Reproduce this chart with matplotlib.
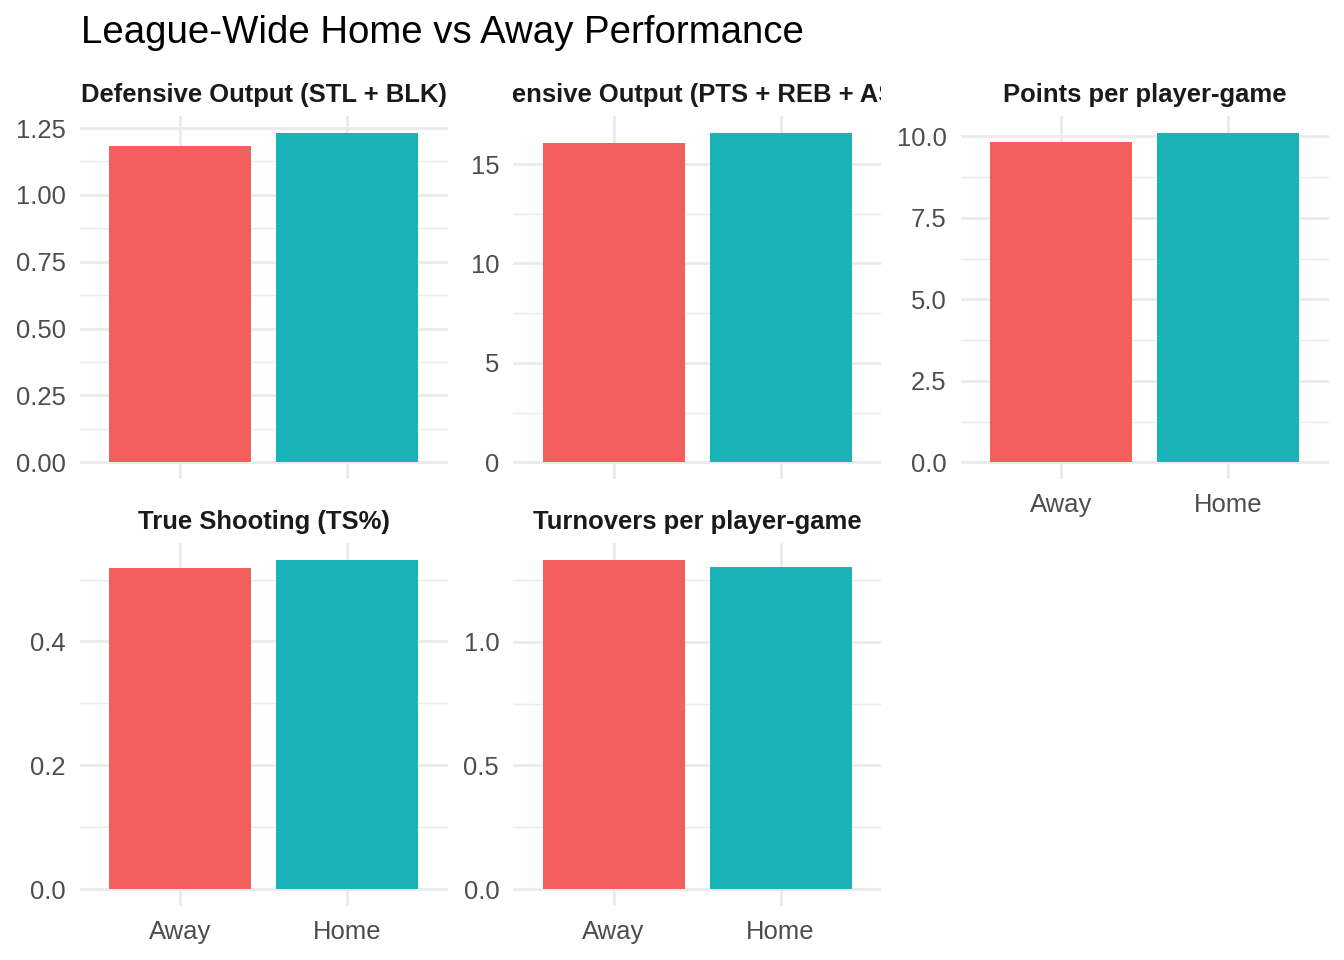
#!/usr/bin/env python3
"""Faceted bar chart: league-wide home vs away averages per metric."""

import matplotlib
matplotlib.use('Agg')
import matplotlib.pyplot as plt
from matplotlib.ticker import MultipleLocator, FormatStrFormatter

plt.rcParams['font.family'] = ['Liberation Sans', 'DejaVu Sans']

# Data
metrics = [
    'Defensive Output (STL + BLK)',
    'Offensive Output (PTS + REB + AST)',
    'Points per player-game',
    'True Shooting (TS%)',
    'Turnovers per player-game',
]
sides = ['Away', 'Home']
away_vals = [1.183, 16.07, 9.84, 0.5195, 1.332]
home_vals = [1.232, 16.57, 10.11, 0.532, 1.303]
tick_steps = [0.25, 5, 2.5, 0.2, 0.5]
tick_decimals = [2, 0, 1, 1, 1]

# Colors
C_AWAY = '#F25F5C'
C_HOME = '#1AB3B8'
C_GRID = '#EBEBEB'
C_TICK = '#4D4D4D'
C_STRIP = '#1A1A1A'

# Layout in pixels of the 1344x960 canvas
W, H = 1344, 960
col_left = [80, 513.3, 961]
panel_w = 367.5
row_top = [116.4, 543.3]
panel_h = 362.3
strip_h = 47
strip_base = 14.7   # baseline of strip text above panel top


def rect(left, top, w, h):
    return [left / W, 1 - (top + h) / H, w / W, h / H]


fig = plt.figure(figsize=(7, 5), dpi=192)

for i, name in enumerate(metrics):
    r, c = divmod(i, 3)
    ax = fig.add_axes(rect(col_left[c], row_top[r], panel_w, panel_h))
    vals = [away_vals[i], home_vals[i]]
    ax.bar(sides, vals, width=0.85, color=[C_AWAY, C_HOME], zorder=2)
    top = max(vals)
    ax.set_ylim(-0.05 * top, 1.05 * top)
    ax.set_xlim(-0.6, 1.6)

    ax.yaxis.set_major_locator(MultipleLocator(tick_steps[i]))
    ax.yaxis.set_minor_locator(MultipleLocator(tick_steps[i] / 2))
    ax.yaxis.set_major_formatter(FormatStrFormatter(f'%.{tick_decimals[i]}f'))
    ax.set_axisbelow(True)
    ax.grid(which='major', color=C_GRID, lw=1.07)
    ax.grid(which='minor', axis='y', color=C_GRID, lw=0.53)
    for s in ax.spines.values():
        s.set_visible(False)
    ax.tick_params(which='both', length=0, labelsize=9.6, labelcolor=C_TICK)
    ax.tick_params(axis='y', pad=5.3)
    ax.tick_params(axis='x', pad=5.3)
    # only bottom-most panel in each column gets category labels
    if r == 0 and c < 2:
        ax.tick_params(axis='x', labelbottom=False)

    # strip with clipped title
    sax = fig.add_axes(rect(col_left[c], row_top[r] - strip_h, panel_w, strip_h))
    sax.set_xlim(0, 1)
    sax.set_ylim(0, strip_h)
    sax.axis('off')
    sax.text(0.5, strip_base, name, ha='center', va='baseline',
             fontsize=9.6, fontweight='bold', color=C_STRIP, clip_on=True)

fig.text(81 / W, 1 - 43.3 / H, 'League-Wide Home vs Away Performance',
         ha='left', va='baseline', fontsize=14.4, color='black')

fig.savefig('out.png', dpi=192, facecolor='white')
